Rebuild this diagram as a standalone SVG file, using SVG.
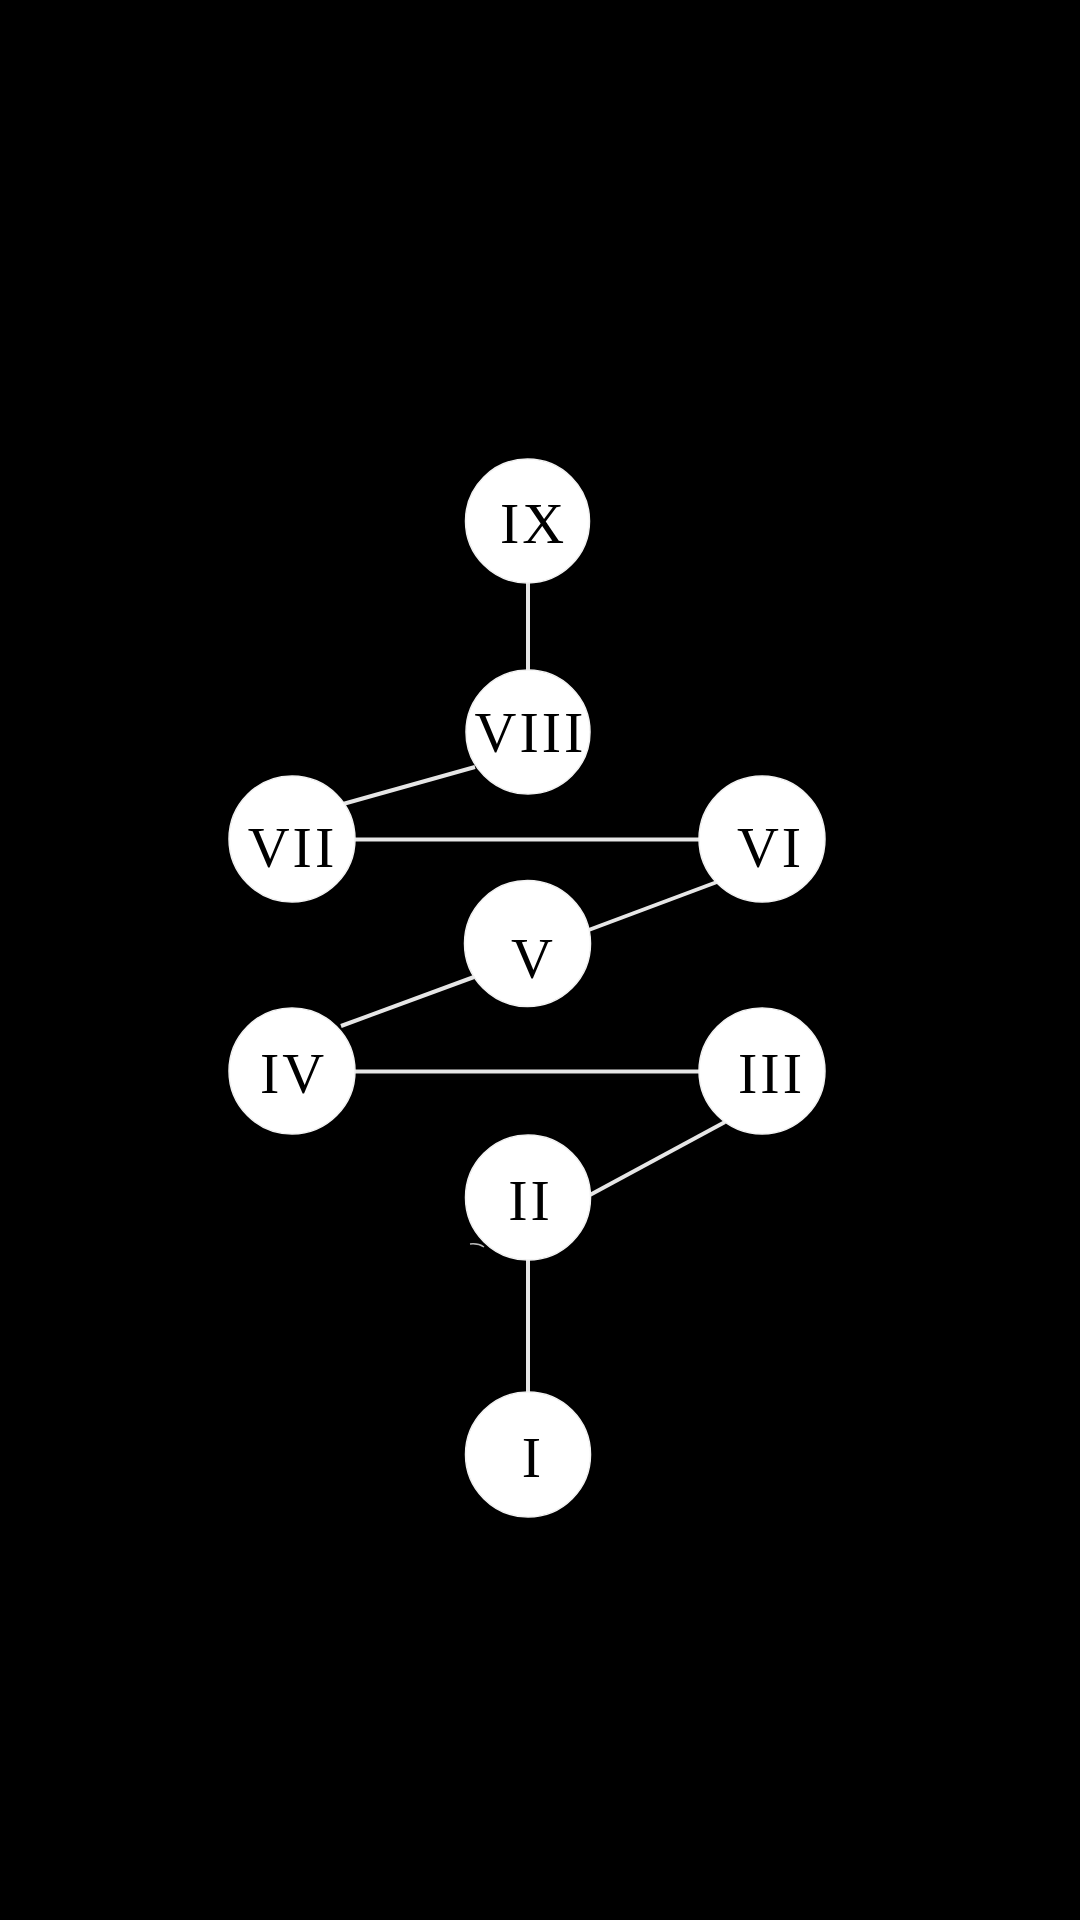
<svg xmlns="http://www.w3.org/2000/svg" width="1080" height="1920" viewBox="0 0 1080 1920">
<style>
.bg{fill:#000}
.node circle{fill:#fff;stroke:#f2f2f2;stroke-width:1.5}
.node text{font-family:"Liberation Serif","Times New Roman",serif;font-size:58px;fill:#000;text-anchor:middle;letter-spacing:3px}
.edge{stroke:#e6e6e6;stroke-width:4;fill:none;stroke-linecap:butt}
</style>
<rect class="bg" x="0" y="0" width="1080" height="1920"/>
<g id="connectors">
<line class="edge" x1="528" y1="580" x2="528" y2="673"/>
<line class="edge" x1="343" y1="804" x2="475" y2="767"/>
<line class="edge" x1="350" y1="839.5" x2="705" y2="839.5"/>
<line class="edge" x1="586" y1="931" x2="717" y2="882"/>
<line class="edge" x1="341" y1="1026" x2="474" y2="977"/>
<line class="edge" x1="350" y1="1071.5" x2="705" y2="1071.5"/>
<line class="edge" x1="588" y1="1196" x2="725" y2="1122"/>
<line class="edge" x1="528" y1="1257" x2="528" y2="1395"/>
<path d="M470 1244 Q478 1243 484 1247" stroke="#bbb" stroke-width="1.5" fill="none"/>
</g>
<g id="node-IX" class="node"><circle cx="527.5" cy="521" r="62"/><text x="533.5" y="543">IX</text></g>
<g id="node-VIII" class="node"><circle cx="528" cy="732" r="62"/><text x="530.5" y="752">VIII</text></g>
<g id="node-VII" class="node"><circle cx="292" cy="839" r="63"/><text x="292.5" y="867">VII</text></g>
<g id="node-VI" class="node"><circle cx="762" cy="839" r="63"/><text x="770.5" y="867">VI</text></g>
<g id="node-V" class="node"><circle cx="527.5" cy="943.5" r="63"/><text x="533.5" y="978">V</text></g>
<g id="node-IV" class="node"><circle cx="292" cy="1071" r="63"/><text x="293.5" y="1093">IV</text></g>
<g id="node-III" class="node"><circle cx="762" cy="1071" r="63"/><text x="771.5" y="1093">III</text></g>
<g id="node-II" class="node"><circle cx="528" cy="1197.5" r="62.5"/><text x="530.5" y="1220">II</text></g>
<g id="node-I" class="node"><circle cx="528" cy="1454.5" r="62.5"/><text x="533" y="1477">I</text></g>
</svg>
